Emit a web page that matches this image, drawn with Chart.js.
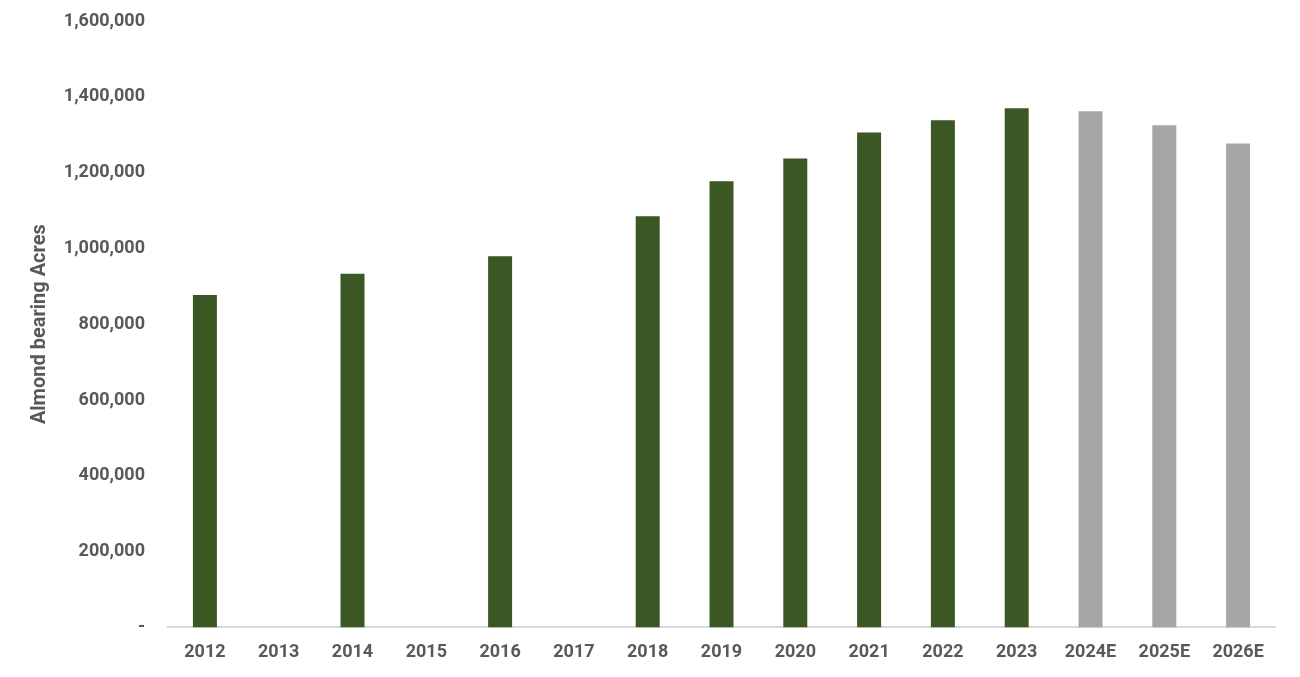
<!DOCTYPE html>
<html>
<head>
<meta charset="utf-8">
<script src="https://cdn.jsdelivr.net/npm/chart.js@4.4.1/dist/chart.umd.min.js"></script>
<style>
    html, body { margin: 0; padding: 0; background: #ffffff; }
    #acresChart { display: block; }
</style>
</head>
<body>
<canvas id="acresChart" width="1300" height="677"></canvas>
<script>
// Data
const years = ['2012', '2013', '2014', '2015', '2016', '2017', '2018', '2019', '2020', '2021', '2022', '2023', '2024E', '2025E', '2026E'];
const bearingAcres = [877000, null, 933000, null, 979000, null, 1085000, 1177000, 1237000, 1306000, 1338000, 1370000, 1362000, 1325000, 1277000];
const isEstimate = [false, false, false, false, false, false, false, false, false, false, false, false, true, true, true];
const yTicks = [0, 200000, 400000, 600000, 800000, 1000000, 1200000, 1400000, 1600000];

// Colours
const actualColor = '#3b5724';
const estimateColor = '#a6a6a6';
const textColor = '#595959';

const barColors = isEstimate.map(e => e ? estimateColor : actualColor);

const ctx = document.getElementById('acresChart').getContext('2d');

const acresChart = new Chart(ctx, {
    type: 'bar',
    data: {
        labels: years,
        datasets: [{
            label: 'Almond bearing Acres',
            data: bearingAcres,
            backgroundColor: barColors,
            borderWidth: 0,
            barPercentage: 0.325,
            categoryPercentage: 1
        }]
    },
    options: {
        responsive: false,
        animation: false,
        layout: {
            padding: { left: 28, right: 25, top: 0, bottom: 0 }
        },
        plugins: {
            legend: { display: false },
            tooltip: { enabled: false }
        },
        scales: {
            x: {
                grid: { display: false, drawTicks: false },
                border: { display: true, color: '#d9d9d9', width: 2 },
                ticks: {
                    color: textColor,
                    padding: 14,
                    font: { family: 'Roboto', size: 18, weight: 'bold' }
                }
            },
            y: {
                min: 0,
                max: 1600000,
                grid: { display: false, drawTicks: false },
                border: { display: false },
                afterBuildTicks: (scale) => {
                    scale.ticks = yTicks.map(v => ({ value: v }));
                },
                afterFit: (scale) => {
                    // fixed axis width, and keep the top tick close to the edge
                    scale.width = 140;
                    scale.paddingTop = 21;
                    scale.paddingBottom = 0;
                },
                ticks: {
                    color: textColor,
                    padding: 23,
                    font: { family: 'Roboto', size: 18, weight: 'bold' },
                    callback: (value) => value === 0 ? '-' : value.toLocaleString('en-US')
                },
                title: {
                    display: true,
                    text: 'Almond bearing Acres',
                    color: textColor,
                    padding: 0,
                    font: { family: 'Roboto', size: 20, weight: 'bold' }
                }
            }
        }
    }
});
</script>
</body>
</html>
